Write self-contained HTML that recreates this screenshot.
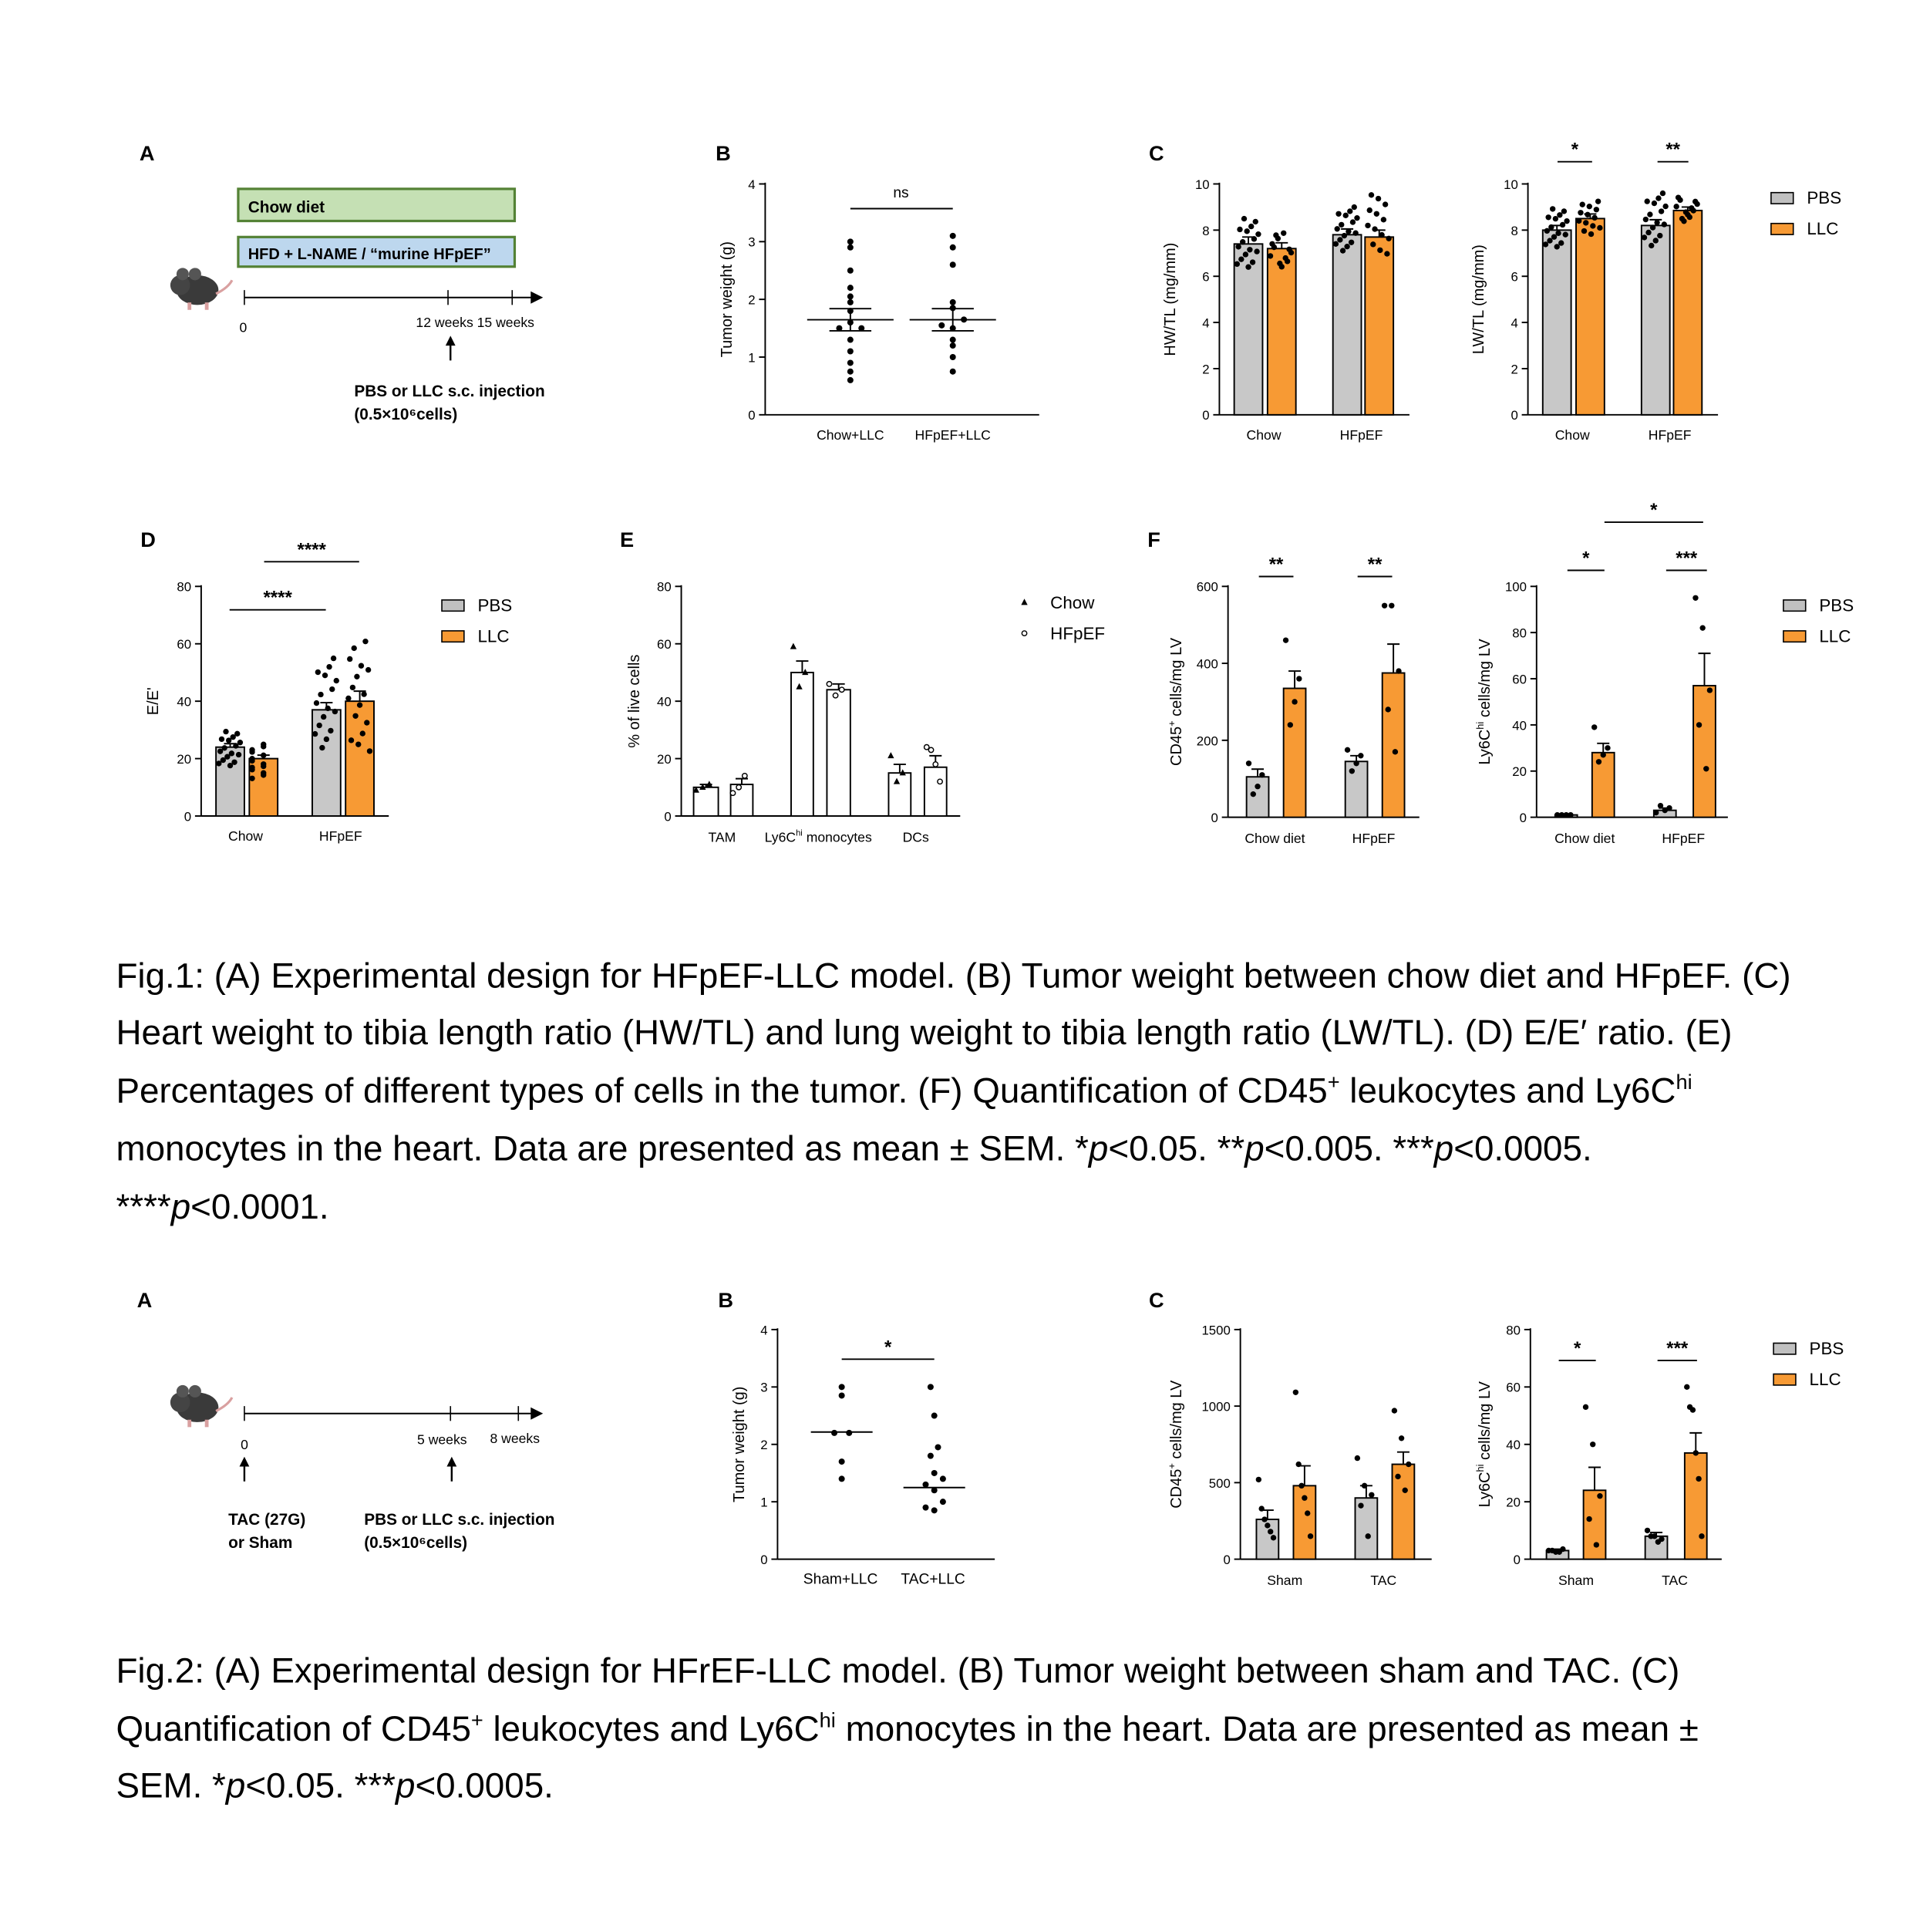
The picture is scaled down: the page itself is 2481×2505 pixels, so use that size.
<!DOCTYPE html>
<html><head><meta charset="utf-8"><style>
html,body{margin:0;padding:0;background:#fff}
svg{display:block}
text{font-family:"Liberation Sans",sans-serif;fill:#000}
</style></head><body>
<svg id="s" width="2481" height="2505" viewBox="0 0 1550 1565" xmlns="http://www.w3.org/2000/svg">
<rect width="1550" height="1565" fill="#fff"/>
<g id="g"></g>
<!-- Fig1 A -->
<text x="113" y="130" font-size="17" font-weight="bold">A</text>
<rect x="193" y="153" width="224" height="26" fill="#c5e0b4" stroke="#548235" stroke-width="2"/>
<text x="201" y="172" font-size="13" font-weight="bold" fill="#333">Chow diet</text>
<rect x="193" y="192" width="224" height="24" fill="#bdd7ee" stroke="#548235" stroke-width="2"/>
<text x="201" y="210" font-size="12.5" font-weight="bold" fill="#333">HFD + L-NAME / “murine HFpEF”</text>
<line x1="198" y1="241" x2="432" y2="241" stroke="#000" stroke-width="1.3"/>
<polygon points="440,241 430,236 430,246" fill="#000"/>
<line x1="198" y1="235" x2="198" y2="247" stroke="#000"/><line x1="363" y1="235" x2="363" y2="247" stroke="#000"/><line x1="415" y1="235" x2="415" y2="247" stroke="#000"/>
<text x="194" y="269" font-size="11">0</text>
<text x="337" y="265" font-size="11">12 weeks 15 weeks</text>
<line x1="365" y1="292" x2="365" y2="278" stroke="#000" stroke-width="1.5"/><polygon points="365,272 361,280 369,280" fill="#000"/>
<text x="287" y="321" font-size="13" font-weight="bold" fill="#333">PBS or LLC s.c. injection</text>
<text x="287" y="340" font-size="13" font-weight="bold" fill="#333">(0.5×10⁶cells)</text>
<g id="m1" transform="translate(160,235)">
<ellipse cx="0" cy="0" rx="17" ry="12" fill="#3a3a3a"/><circle cx="-14" cy="-4" r="8" fill="#444"/><circle cx="-12" cy="-13" r="5" fill="#555"/><circle cx="-2" cy="-13" r="5" fill="#555"/>
<path d="M15,3 Q25,-2 28,-8" stroke="#d9a0a0" stroke-width="2" fill="none"/><rect x="-8" y="10" width="3" height="6" fill="#d9a0a0"/><rect x="6" y="10" width="3" height="6" fill="#d9a0a0"/>
</g>
<!-- Fig1 captions -->
<g font-size="28.6">
<text x="94" y="800">Fig.1: (A) Experimental design for HFpEF-LLC model. (B) Tumor weight between chow diet and HFpEF. (C)</text>
<text x="94" y="846">Heart weight to tibia length ratio (HW/TL) and lung weight to tibia length ratio (LW/TL). (D) E/E′ ratio. (E)</text>
<text x="94" y="893">Percentages of different types of cells in the tumor. (F) Quantification of CD45<tspan font-size="17" dy="-11">+</tspan><tspan dy="11"> leukocytes and Ly6C</tspan><tspan font-size="17" dy="-11">hi</tspan></text>
<text x="94" y="940">monocytes in the heart. Data are presented as mean ± SEM. *<tspan font-style="italic">p</tspan>&lt;0.05. **<tspan font-style="italic">p</tspan>&lt;0.005. ***<tspan font-style="italic">p</tspan>&lt;0.0005.</text>
<text x="94" y="987">****<tspan font-style="italic">p</tspan>&lt;0.0001.</text>
<text x="94" y="1363">Fig.2: (A) Experimental design for HFrEF-LLC model. (B) Tumor weight between sham and TAC. (C)</text>
<text x="94" y="1410">Quantification of CD45<tspan font-size="17" dy="-11">+</tspan><tspan dy="11"> leukocytes and Ly6C</tspan><tspan font-size="17" dy="-11">hi</tspan><tspan dy="11"> monocytes in the heart. Data are presented as mean ±</tspan></text>
<text x="94" y="1456">SEM. *<tspan font-style="italic">p</tspan>&lt;0.05. ***<tspan font-style="italic">p</tspan>&lt;0.0005.</text>
</g>
<!-- Fig2 A -->
<text x="111" y="1059" font-size="17" font-weight="bold">A</text>
<use href="#m1" transform="translate(0,905)"/>
<line x1="198" y1="1145" x2="432" y2="1145" stroke="#000" stroke-width="1.3"/>
<polygon points="440,1145 430,1140 430,1150" fill="#000"/>
<line x1="198" y1="1139" x2="198" y2="1151" stroke="#000"/><line x1="365" y1="1139" x2="365" y2="1151" stroke="#000"/><line x1="420" y1="1139" x2="420" y2="1151" stroke="#000"/>
<text x="195" y="1174" font-size="11">0</text>
<text x="338" y="1170" font-size="11">5 weeks</text><text x="397" y="1169" font-size="11">8 weeks</text>
<line x1="198" y1="1200" x2="198" y2="1186" stroke="#000" stroke-width="1.5"/><polygon points="198,1180 194,1188 202,1188" fill="#000"/>
<line x1="366" y1="1200" x2="366" y2="1186" stroke="#000" stroke-width="1.5"/><polygon points="366,1180 362,1188 370,1188" fill="#000"/>
<text x="185" y="1235" font-size="13" font-weight="bold" fill="#333">TAC (27G)</text>
<text x="185" y="1254" font-size="13" font-weight="bold" fill="#333">or Sham</text>
<text x="295" y="1235" font-size="13" font-weight="bold" fill="#333">PBS or LLC s.c. injection</text>
<text x="295" y="1254" font-size="13" font-weight="bold" fill="#333">(0.5×10⁶cells)</text>
</svg>
<script>
var G=document.getElementById('g'),h='';
function T(x,y,s,fs,a,extra){h+='<text x="'+x+'" y="'+y+'" font-size="'+(fs||11)+'" text-anchor="'+(a||'middle')+'" '+(extra||'')+'>'+s+'</text>';}
function L(x1,y1,x2,y2,w){h+='<line x1="'+x1+'" y1="'+y1+'" x2="'+x2+'" y2="'+y2+'" stroke="#000" stroke-width="'+(w||1.2)+'"/>';}
function D(x,y,r,t){r=r||2.5;if(t=='tri')h+='<polygon points="'+x+','+(y-3)+' '+(x-2.6)+','+(y+2)+' '+(x+2.6)+','+(y+2)+'" fill="#000"/>';else if(t=='o')h+='<circle cx="'+x+'" cy="'+y+'" r="2" fill="#fff" stroke="#000" stroke-width="0.9"/>';else h+='<circle cx="'+x+'" cy="'+y+'" r="'+r+'" fill="#000"/>';}
function axis(x,y0,y1,x2,ticks,maxv,ylab,labx){L(x,y1-1,x,y0);L(x,y0,x2,y0);
 ticks.forEach(function(v){var y=y0-(y0-y1)*v/maxv;L(x-5,y,x,y);T(x-8,y+4,v,10.5,'end');});
 h+='<text transform="translate('+labx+','+((y0+y1)/2)+') rotate(-90)" font-size="12.5" text-anchor="middle">'+ylab+'</text>';}
function bar(x1,x2,y0,sc,v,col,err,pts,pt){var top=y0-v*sc;h+='<rect x="'+x1+'" y="'+top+'" width="'+(x2-x1)+'" height="'+(v*sc)+'" fill="'+col+'" stroke="#000" stroke-width="1.2"/>';
 var c=(x1+x2)/2;L(c,top-err*sc,c,top);L(c-5,top-err*sc,c+5,top-err*sc);
 var n=pts.length;pts.forEach(function(p,i){var j=((i*7)%n)/n-0.5;D(c+j*(x2-x1)*0.8,y0-p*sc,2.3,pt);});}
function sig(xa,xb,y,s){L(xa,y,xb,y);T((xa+xb)/2,y-5,s,15,'middle','font-weight="bold"');}
function leg(x,y){h+='<rect x="'+x+'" y="'+(y-10)+'" width="18" height="9" fill="#c0c0c0" stroke="#000"/><rect x="'+x+'" y="'+(y+15)+'" width="18" height="9" fill="#f79a34" stroke="#000"/>';T(x+29,y-1,'PBS',14,'start');T(x+29,y+24,'LLC',14,'start');}
function R(n,a,b,s){var r=[];for(var i=0;i<n;i++){r.push(a+(b-a)*((i*0.618+s)%1));}return r;}
var GR='#c8c8c8',OR='#f79a34';
T(586,130,'B',17,'middle','font-weight="bold"');
axis(620,336,149,842,[0,1,2,3,4],4,'Tumor weight (g)',593);
var sc=46.75;
[3,2.9,2.5,2.2,2.05,1.95,1.8,1.6,1.5,1.5,1.3,1.1,0.9,0.75,0.6].forEach(function(v,i){D(689+((i%3)-1)*((v>1.4&&v<1.7)?9:0),336-v*sc);});
[3.1,2.9,2.6,1.95,1.85,1.65,1.55,1.5,1.3,1.2,1.0,0.75].forEach(function(v,i){D(772+((i%3)-1)*((v>1.4&&v<1.7)?9:0),336-v*sc);});
[[689],[772]].forEach(function(c){c=c[0];L(c-35,259,c+35,259);L(c-17,250,c+17,250);L(c-17,268,c+17,268);L(c,250,c,268);});
L(689,169,772,169);T(730,160,'ns',12);
T(689,356,'Chow+LLC',11);T(772,356,'HFpEF+LLC',11);
T(937,130,'C',17,'middle','font-weight="bold"');
axis(988,336,149,1142,[0,2,4,6,8,10],10,'HW/TL (mg/mm)',952);
sc=18.7;
bar(1000,1023,336,sc,7.4,GR,0.3,R(16,6.3,8.6,0.1));bar(1027,1050,336,sc,7.2,OR,0.25,R(12,6.4,8.0,0.3));
bar(1080,1103,336,sc,7.8,GR,0.25,R(16,7.0,9.0,0.2));bar(1106,1129,336,sc,7.7,OR,0.3,R(13,6.8,9.6,0.5));
T(1024,356,'Chow',11);T(1103,356,'HFpEF',11);
axis(1238,336,149,1392,[0,2,4,6,8,10],10,'LW/TL (mg/mm)',1202);
bar(1250,1273,336,sc,8.0,GR,0.2,R(16,7.2,9.0,0.1));bar(1277,1300,336,sc,8.5,OR,0.2,R(13,7.8,9.3,0.4));
bar(1330,1353,336,sc,8.2,GR,0.25,R(16,7.2,9.6,0.2));bar(1356,1379,336,sc,8.85,OR,0.15,R(12,8.3,9.5,0.6));
T(1274,356,'Chow',11);T(1353,356,'HFpEF',11);
sig(1262,1290,131,'*');sig(1343,1368,131,'**');leg(1435,166);
T(120,443,'D',17,'middle','font-weight="bold"');
axis(163,661,475,315,[0,20,40,60,80],80,"E/E'",128);
sc=2.325;
bar(175,198,661,sc,24,GR,1.2,R(16,17,30,0.1));bar(202,225,661,sc,20,OR,1.2,R(14,13,26,0.3));
bar(253,276,661,sc,37,GR,2.5,R(16,22,55,0.2));bar(280,303,661,sc,40,OR,3.5,R(16,20,62,0.5));
T(199,681,'Chow',11);T(276,681,'HFpEF',11);
sig(186,264,494,'****');sig(214,291,455,'****');leg(358,496);
T(508,443,'E',17,'middle','font-weight="bold"');
axis(552,661,475,778,[0,20,40,60,80],80,'% of live cells',518);
bar(562,582,661,sc,10,'#fff',1,[9,10,11],'tri');bar(592,610,661,sc,11,'#fff',2,[8,10,14],'o');
bar(641,659,661,sc,50,'#fff',4,[59,45,50],'tri');bar(670,689,661,sc,44,'#fff',2,[46,42,44],'o');
bar(720,738,661,sc,15,'#fff',3,[21,12,15],'tri');bar(749,767,661,sc,17,'#fff',4,[24,12,18,23],'o');
T(585,682,'TAM',11);T(663,682,'Ly6C<tspan font-size="7" dy="-5">hi</tspan><tspan dy="5"> monocytes</tspan>',11);T(742,682,'DCs',11);
D(830,488,0,'tri');T(851,493,'Chow',14,'start');D(830,513,0,'o');T(851,518,'HFpEF',14,'start');
T(935,443,'F',17,'middle','font-weight="bold"');
axis(995,662,475,1150,[0,200,400,600],600,'CD45<tspan font-size="8" dy="-5">+</tspan><tspan dy="5"> cells/mg LV</tspan>',957);
sc=187/600;
bar(1010,1028,662,sc,105,GR,20,[140,110,80,60]);bar(1040,1058,662,sc,335,OR,45,[460,360,300,240]);
bar(1090,1108,662,sc,145,GR,15,[175,160,140,120]);bar(1120,1138,662,sc,375,OR,75,[550,550,380,280,170]);
T(1033,683,'Chow diet',11);T(1113,683,'HFpEF',11);
sig(1020,1048,467,'**');sig(1100,1128,467,'**');
axis(1245,662,475,1400,[0,20,40,60,80,100],100,'Ly6C<tspan font-size="8" dy="-5">hi</tspan><tspan dy="5"> cells/mg LV</tspan>',1207);
sc=1.87;
bar(1260,1278,662,sc,1,GR,0.3,[1,1,1,1]);bar(1290,1308,662,sc,28,OR,4,[39,30,27,24]);
bar(1340,1358,662,sc,3,GR,1,[2,4,3,5]);bar(1372,1390,662,sc,57,OR,14,[95,82,55,40,21]);
T(1284,683,'Chow diet',11);T(1364,683,'HFpEF',11);
sig(1270,1300,462,'*');sig(1350,1383,462,'***');sig(1300,1380,423,'*');leg(1445,496);
T(588,1059,'B',17,'middle','font-weight="bold"');
axis(630,1263,1077,806,[0,1,2,3,4],4,'Tumor weight (g)',603);
sc=46.5;
[3.0,2.85,2.2,2.2,1.7,1.4].forEach(function(v,i){D(682+(v==2.2?(i%2?6:-6):0),1263-v*sc);});
[3.0,2.5,1.95,1.8,1.5,1.4,1.3,1.2,1.0,0.9,0.85].forEach(function(v,i){D(757+((i%3)-1)*(v<1.5?7:3),1263-v*sc);});
L(657,1160,707,1160);L(732,1205,782,1205);
sig(682,757,1101,'*');T(681,1283,'Sham+LLC',12);T(756,1283,'TAC+LLC',12);
T(937,1059,'C',17,'middle','font-weight="bold"');
axis(1005,1263,1077,1160,[0,500,1000,1500],1500,'CD45<tspan font-size="8" dy="-5">+</tspan><tspan dy="5"> cells/mg LV</tspan>',957);
sc=186/1500;
bar(1018,1036,1263,sc,260,GR,60,[520,330,260,220,180,140]);bar(1048,1066,1263,sc,480,OR,130,[1090,620,480,400,300,150]);
bar(1098,1116,1263,sc,400,GR,80,[660,480,420,350,150]);bar(1128,1146,1263,sc,620,OR,80,[970,790,620,540,450]);
T(1041,1284,'Sham',11);T(1121,1284,'TAC',11);
axis(1240,1263,1077,1395,[0,20,40,60,80],80,'Ly6C<tspan font-size="8" dy="-5">hi</tspan><tspan dy="5"> cells/mg LV</tspan>',1207);
sc=2.325;
bar(1253,1271,1263,sc,3,GR,0.5,[3,2.5,3.5,3,2.5]);bar(1283,1301,1263,sc,24,OR,8,[53,40,22,14,5]);
bar(1333,1351,1263,sc,8,GR,1.3,[10,8,7,8,6]);bar(1365,1383,1263,sc,37,OR,7,[60,53,52,37,28,8]);
T(1277,1284,'Sham',11);T(1357,1284,'TAC',11);
sig(1263,1293,1102,'*');sig(1343,1375,1102,'***');leg(1437,1098);
G.innerHTML=h;
</script>
</body></html>
